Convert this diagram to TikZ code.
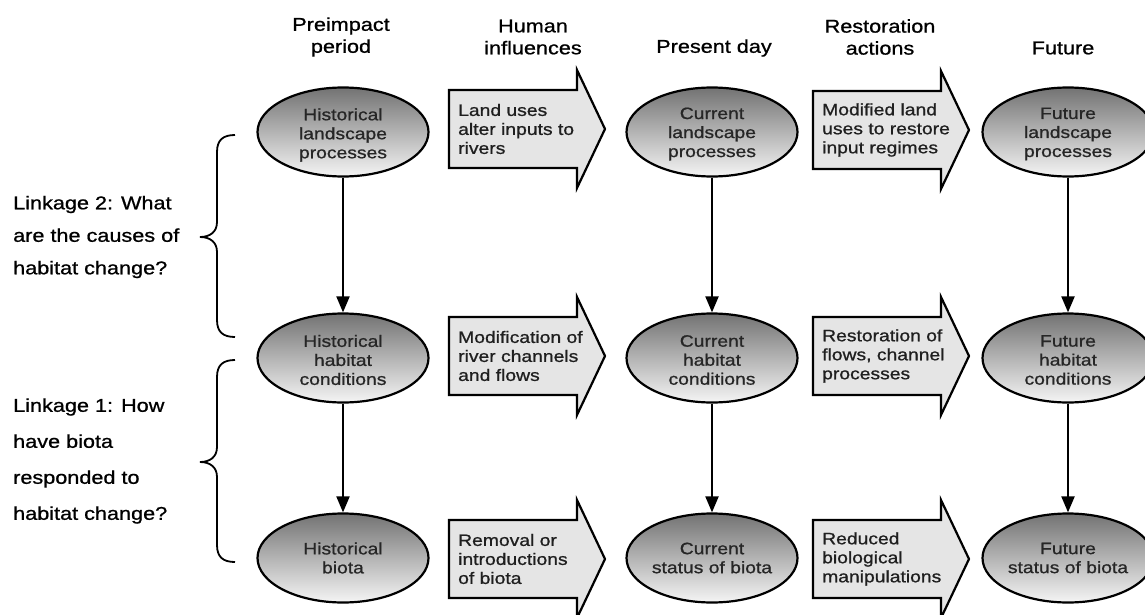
\documentclass[tikz,border=0pt]{standalone}
\usepackage{fontspec}
\setmainfont[FakeStretch=1.17,FakeBold=0.9]{Liberation Sans}
\usetikzlibrary{shapes.geometric,arrows.meta}

\newcommand\blockarrow[4]{%
  \draw[blk] (#2,#3-39) -- (#2+128,#3-39) -- (#2+128,#3-59) -- (#2+156,#3)
     -- (#2+128,#3+59) -- (#2+128,#3+39) -- (#2,#3+39) -- cycle;
  \node[blktext] (#1) at (#2+9,#3) {#4};}

\begin{document}
\begin{tikzpicture}[x=1pt,y=-1pt,
  ell/.style={ellipse, draw=black, line width=2.2pt, minimum width=171pt,
    minimum height=89pt, inner sep=0pt, top color=black!55, bottom color=black!4},
  etxt/.style={align=center, inner sep=0pt, font=\fontsize{16.5}{19}\selectfont, text=black!85},
  blk/.style={draw=black, line width=2.2pt, fill=black!10, line join=miter},
  blktext/.style={anchor=west, align=left, inner sep=0pt,
    font=\fontsize{16.5}{19}\selectfont, text=black!88},
  hdr/.style={align=center, inner sep=0pt, font=\fontsize{18.5}{22}\selectfont},
  lnk/.style={align=left, anchor=west, inner sep=0pt},
  conn/.style={line width=2pt, -{Triangle[length=16pt,width=13pt]}},
  brc/.style={line width=1.8pt}
]
\fill[white] (0,0) rectangle (1145,615);
\useasboundingbox (0,0) rectangle (1145,615);

% headers
\node[hdr] (h1) at (341,37) {Preimpact\\period};
\node[hdr] (h2) at (533,37) {Human\\influences};
\node[hdr] (h3) at (714,48) {Present day};
\node[hdr] (h4) at (880,37) {Restoration\\actions};
\node[hdr] (h5) at (1063,48) {Future};

% ellipses
\node[ell] (hl) at (343,132) {};
\node[ell] (hh) at (343,358) {};
\node[ell] (hb) at (343,558) {};
\node[ell] (cl) at (712,132) {};
\node[ell] (ch) at (712,358) {};
\node[ell] (cb) at (712,558) {};
\node[ell] (fl) at (1068,132) {};
\node[ell] (fh) at (1068,358) {};
\node[ell] (fb) at (1068,558) {};

\node[etxt] (thl) at ([yshift=-3pt]hl.center) {Historical\\landscape\\processes};
\node[etxt] (thh) at ([yshift=-2pt]hh.center) {Historical\\habitat\\conditions};
\node[etxt] (thb) at (hb.center) {Historical\\biota};
\node[etxt] (tcl) at ([yshift=-2pt]cl.center) {Current\\landscape\\processes};
\node[etxt] (tch) at ([yshift=-2pt]ch.center) {Current\\habitat\\conditions};
\node[etxt] (tcb) at (cb.center) {Current\\status of biota};
\node[etxt] (tfl) at ([yshift=-2pt]fl.center) {Future\\landscape\\processes};
\node[etxt] (tfh) at ([yshift=-2pt]fh.center) {Future\\habitat\\conditions};
\node[etxt] (tfb) at (fb.center) {Future\\status of biota};

% block arrows
\blockarrow{a1}{449}{129}{Land uses\\alter inputs to\\rivers}
\blockarrow{a2}{449}{356}{Modification of\\river channels\\and flows}
\blockarrow{a3}{449}{559}{Removal or\\introductions\\of biota}
\blockarrow{a4}{813}{130}{Modified land\\uses to restore\\input regimes}
\blockarrow{a5}{813}{356}{Restoration of\\flows, channel\\processes}
\blockarrow{a6}{813}{559}{Reduced\\biological\\manipulations}

% vertical connectors
\draw[conn] (hl) -- (hh);
\draw[conn] (hh) -- (hb);
\draw[conn] (cl) -- (ch);
\draw[conn] (ch) -- (cb);
\draw[conn] (fl) -- (fh);
\draw[conn] (fh) -- (fb);

% braces
\draw[brc] (235,135) .. controls (223,135) and (217,140) .. (217,152)
  -- (217,222) .. controls (217,232) and (210,237) .. (200,237)
  .. controls (210,237) and (217,242) .. (217,252)
  -- (217,320) .. controls (217,332) and (223,337) .. (235,337);
\draw[brc] (235,360) .. controls (223,360) and (217,365) .. (217,377)
  -- (217,447) .. controls (217,457) and (210,462) .. (200,462)
  .. controls (210,462) and (217,467) .. (217,477)
  -- (217,545) .. controls (217,557) and (223,562) .. (235,562);

% linkage texts
\node[lnk, font=\fontsize{18.5}{32.5}\selectfont] (l2) at (13,237)
  {Linkage 2: What\\are the causes of\\habitat change?};
\node[lnk, font=\fontsize{18.5}{36}\selectfont] (l1) at (13,461)
  {Linkage 1: How\\have biota\\responded to\\habitat change?};
\end{tikzpicture}
\end{document}
